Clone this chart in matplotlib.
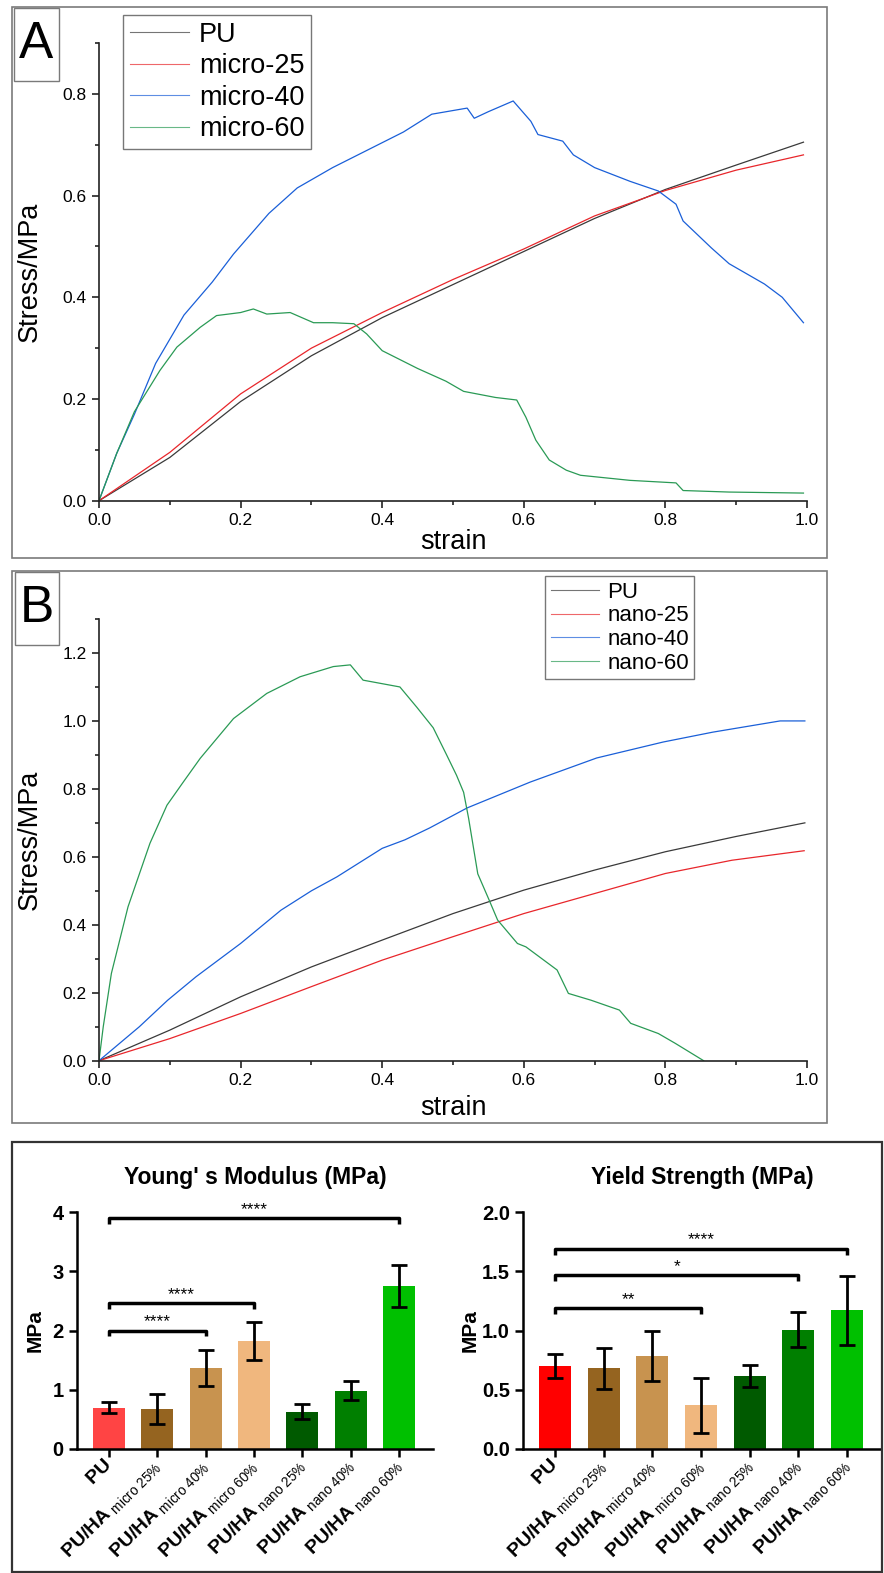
import matplotlib
matplotlib.use("Agg")
import matplotlib.pyplot as plt
from matplotlib.patches import Rectangle
from matplotlib.ticker import MultipleLocator, FormatStrFormatter

plt.rcParams['font.family'] = ['Liberation Sans', 'DejaVu Sans']
plt.rcParams['mathtext.fontset'] = 'custom'
plt.rcParams['mathtext.rm'] = 'Liberation Sans'
plt.rcParams['mathtext.bf'] = 'Liberation Sans:bold'
plt.rcParams['mathtext.it'] = 'Liberation Sans:italic'

# ---- panel A: PU / micro-HA stress-strain ----
a_pu_strain = [0, 0.1, 0.2, 0.3, 0.4, 0.5, 0.6, 0.7, 0.8, 0.9, 0.995]
a_pu_stress = [0, 0.085, 0.195, 0.285, 0.36, 0.425, 0.49, 0.555, 0.612, 0.66, 0.705]
a_m25_strain = [0, 0.1, 0.2, 0.3, 0.4, 0.5, 0.6, 0.7, 0.8, 0.9, 0.995]
a_m25_stress = [0, 0.095, 0.21, 0.30, 0.37, 0.435, 0.495, 0.56, 0.61, 0.65, 0.68]
a_m40_strain = [0, 0.025, 0.05, 0.08, 0.12, 0.16, 0.19, 0.24, 0.28, 0.33, 0.38, 0.43,
                0.47, 0.52, 0.53, 0.55, 0.585, 0.61, 0.62, 0.655, 0.67, 0.70, 0.75,
                0.79, 0.815, 0.825, 0.865, 0.89, 0.94, 0.965, 0.995]
a_m40_stress = [0, 0.093, 0.17, 0.27, 0.365, 0.43, 0.485, 0.565, 0.615, 0.655, 0.69, 0.725,
                0.76, 0.772, 0.752, 0.765, 0.786, 0.746, 0.72, 0.707, 0.68, 0.655, 0.628,
                0.609, 0.583, 0.55, 0.497, 0.466, 0.426, 0.40, 0.35]
a_m60_strain = [0, 0.025, 0.05, 0.086, 0.11, 0.143, 0.166, 0.2, 0.218, 0.237, 0.27, 0.303,
                0.33, 0.36, 0.378, 0.40, 0.45, 0.49, 0.515, 0.56, 0.59, 0.603, 0.617,
                0.636, 0.66, 0.68, 0.75, 0.815, 0.825, 0.89, 0.995]
a_m60_stress = [0, 0.093, 0.175, 0.256, 0.302, 0.341, 0.364, 0.37, 0.377, 0.367, 0.37, 0.35,
                0.35, 0.348, 0.328, 0.295, 0.26, 0.235, 0.215, 0.203, 0.198, 0.164, 0.119,
                0.08, 0.06, 0.05, 0.04, 0.035, 0.02, 0.017, 0.015]

# ---- panel B: PU / nano-HA stress-strain ----
b_pu_strain = [0, 0.1, 0.2, 0.3, 0.4, 0.5, 0.6, 0.7, 0.8, 0.9, 0.997]
b_pu_stress = [0, 0.09, 0.188, 0.276, 0.355, 0.433, 0.502, 0.561, 0.615, 0.66, 0.70]
b_n25_strain = [0, 0.1, 0.2, 0.3, 0.4, 0.5, 0.6, 0.7, 0.8, 0.894, 0.996]
b_n25_stress = [0, 0.065, 0.139, 0.218, 0.296, 0.365, 0.433, 0.492, 0.551, 0.59, 0.618]
b_n40_strain = [0, 0.057, 0.097, 0.137, 0.2, 0.257, 0.3, 0.336, 0.4, 0.432, 0.467, 0.52,
                0.609, 0.703, 0.797, 0.867, 0.962, 0.997]
b_n40_stress = [0, 0.1, 0.178, 0.247, 0.345, 0.443, 0.50, 0.541, 0.625, 0.65, 0.685, 0.744,
                0.82, 0.891, 0.938, 0.967, 1.0, 1.0]
b_n60_strain = [0, 0.006, 0.0175, 0.041, 0.072, 0.096, 0.119, 0.143, 0.19, 0.237, 0.284,
                0.331, 0.355, 0.373, 0.425, 0.449, 0.472, 0.491, 0.505, 0.515, 0.522,
                0.535, 0.551, 0.563, 0.591, 0.603, 0.647, 0.663, 0.695, 0.735, 0.751,
                0.79, 0.814, 0.854]
b_n60_stress = [0, 0.1, 0.257, 0.453, 0.64, 0.752, 0.82, 0.89, 1.007, 1.081, 1.13,
                1.16, 1.165, 1.12, 1.10, 1.04, 0.98, 0.9, 0.84, 0.79, 0.714,
                0.55, 0.473, 0.414, 0.345, 0.335, 0.267, 0.198, 0.178, 0.149, 0.11,
                0.08, 0.051, 0.0]

# ---- panel C: bar charts ----
bar_groups = ['PU', 'micro 25%', 'micro 40%', 'micro 60%', 'nano 25%', 'nano 40%', 'nano 60%']
modulus_mean = [0.70, 0.67, 1.37, 1.83, 0.63, 0.98, 2.75]
modulus_err = [0.10, 0.25, 0.30, 0.32, 0.13, 0.16, 0.35]
yield_mean = [0.70, 0.68, 0.785, 0.368, 0.615, 1.008, 1.17]
yield_err = [0.105, 0.17, 0.21, 0.23, 0.09, 0.15, 0.29]

# significance brackets: (from, to, height, label)
modulus_sig = [(0, 2, 2.0, '****'), (0, 3, 2.46, '****'), (0, 6, 3.9, '****')]
yield_sig = [(0, 3, 1.19, '**'), (0, 5, 1.466, '*'), (0, 6, 1.69, '****')]

curve_colors = ['#3a3a3a', '#e8262b', '#1a5fd8', '#2a9a55']
modulus_colors = ['#ff4444', '#956420', '#c8934f', '#f0b77e', '#005a00', '#007f00', '#00c000']
yield_colors = ['#ff0000', '#956420', '#c8934f', '#f0b77e', '#005a00', '#007f00', '#00c000']

W, H = 884, 1573
fig = plt.figure(figsize=(W / 100, H / 100), dpi=100)


def px_rect(x0, y0, x1, y1):
    # pixel box (top-left origin) -> figure fraction rect
    return [x0 / W, 1 - y1 / H, (x1 - x0) / W, (y1 - y0) / H]


def frame(x0, y0, x1, y1, lw=1.2, color='#7a7a7a'):
    l, b, w, h = px_rect(x0, y0, x1, y1)
    fig.add_artist(Rectangle((l, b), w, h, transform=fig.transFigure,
                             fill=False, ec=color, lw=lw))


def style_curve_axes(ax, ymax):
    ax.set_xlim(0, 1.0)
    ax.set_ylim(0, ymax)
    for s in ['top', 'right']:
        ax.spines[s].set_visible(False)
    for s in ['left', 'bottom']:
        ax.spines[s].set_linewidth(1.2)
        ax.spines[s].set_color('#222222')
    ax.xaxis.set_major_locator(MultipleLocator(0.2))
    ax.xaxis.set_minor_locator(MultipleLocator(0.1))
    ax.yaxis.set_major_locator(MultipleLocator(0.2))
    ax.yaxis.set_minor_locator(MultipleLocator(0.1))
    ax.xaxis.set_major_formatter(FormatStrFormatter('%.1f'))
    ax.yaxis.set_major_formatter(FormatStrFormatter('%.1f'))
    ax.tick_params(which='major', direction='out', length=5, width=1.2,
                   labelsize=12.5, color='#222222', pad=4)
    ax.tick_params(which='minor', direction='out', length=3, width=1.2, color='#222222')
    ax.set_xlabel('strain', fontsize=19.5)
    ax.set_ylabel('Stress/MPa', fontsize=19.5)


def curve_panel(rect, ymax, series, labels, legend_anchor, legend_size, spacing):
    ax = fig.add_axes(rect)
    for (x, y), lab, c in zip(series, labels, curve_colors):
        ax.plot(x, y, color=c, lw=0.9, label=lab)
    style_curve_axes(ax, ymax)
    leg = ax.legend(loc='upper left', bbox_to_anchor=legend_anchor, fontsize=legend_size,
                    frameon=True, fancybox=False, framealpha=1, edgecolor='#777777',
                    handlelength=2.2, handletextpad=0.35, labelspacing=spacing,
                    borderpad=0.25, borderaxespad=0)
    leg.get_frame().set_linewidth(1.0)
    for line in leg.get_lines():
        line.set_linewidth(0.8)
        line.set_alpha(0.7)
    return ax


# panel A
frame(12, 7, 827, 558)
frame(14, 8, 59, 81, lw=1.0)
fig.text(36.5 / W, 1 - 45 / H, 'A', fontsize=37, ha='center', va='center')
ax_a = curve_panel(px_rect(99, 43, 807, 500.7), 0.9,
                   [(a_pu_strain, a_pu_stress), (a_m25_strain, a_m25_stress),
                    (a_m40_strain, a_m40_stress), (a_m60_strain, a_m60_stress)],
                   ['PU', 'micro-25', 'micro-40', 'micro-60'], (0.034, 1.061), 19.5, 0.2)
ax_a.xaxis.set_label_coords(0.5, -0.062)
ax_a.yaxis.set_label_coords(-0.08, 0.5)

# panel B
frame(12, 571, 827, 1123)
frame(15, 572, 59, 645, lw=1.0)
fig.text(37 / W, 1 - 609 / H, 'B', fontsize=37, ha='center', va='center')
ax_b = curve_panel(px_rect(99, 619, 807, 1060.7), 1.3,
                   [(b_pu_strain, b_pu_stress), (b_n25_strain, b_n25_stress),
                    (b_n40_strain, b_n40_stress), (b_n60_strain, b_n60_stress)],
                   ['PU', 'nano-25', 'nano-40', 'nano-60'], (0.63, 1.097), 16, 0.12)
ax_b.xaxis.set_label_coords(0.5, -0.078)
ax_b.yaxis.set_label_coords(-0.08, 0.5)

# panel C
frame(12, 1142, 882, 1572, lw=1.6, color='#333333')


def tick_label(g):
    if g == 'PU':
        return r'$\mathbf{PU}$'
    return r'$\mathbf{PU/HA}_{\mathrm{\ ' + g.replace(' ', r'\ ').replace('%', r'\%') + '}}$'


def bar_panel(rect, means, errs, colors, ymax, ystep, yfmt, title, sig, ylabel_x):
    ax = fig.add_axes(rect)
    xs = list(range(len(means)))
    ax.bar(xs, means, width=0.66, color=colors, zorder=2)
    ax.errorbar(xs, means, yerr=errs, fmt='none', ecolor='black', elinewidth=2,
                capsize=5.5, capthick=2, zorder=3)
    ax.set_xlim(-0.66, 6.7)
    ax.set_ylim(0, ymax)
    for s in ['top', 'right']:
        ax.spines[s].set_visible(False)
    for s in ['left', 'bottom']:
        ax.spines[s].set_linewidth(1.8)
    ax.yaxis.set_major_locator(MultipleLocator(ystep))
    ax.yaxis.set_major_formatter(FormatStrFormatter(yfmt))
    ax.set_xticks(xs)
    ax.set_xticklabels([tick_label(g) for g in bar_groups], rotation=45, ha='right',
                       va='center', rotation_mode='anchor', fontsize=14)
    ax.tick_params(direction='out', length=6, width=1.8)
    ax.tick_params(axis='y', labelsize=14.5)
    for t in ax.get_yticklabels():
        t.set_fontweight('bold')
    ax.set_title(title, fontsize=16.5, fontweight='bold', pad=20)
    ax.set_ylabel('MPa', fontsize=15, fontweight='bold')
    ax.yaxis.set_label_coords(ylabel_x, 0.5)
    tip = ymax * 0.025
    for i0, i1, h, lab in sig:
        ax.plot([i0, i0, i1, i1], [h - tip, h, h, h - tip], color='black', lw=2.5,
                solid_capstyle='butt', zorder=4)
        ax.text((i0 + i1) / 2, h + ymax * 0.005, lab, ha='center', va='bottom',
                fontsize=12.5)
    return ax


bar_panel(px_rect(77, 1212, 433, 1449), modulus_mean, modulus_err, modulus_colors,
          4, 1, '%d', "Young' s Modulus (MPa)", modulus_sig, -0.09)
bar_panel(px_rect(523, 1212, 881, 1449), yield_mean, yield_err, yield_colors,
          2.0, 0.5, '%.1f', 'Yield Strength (MPa)', yield_sig, -0.12)

fig.savefig('out.png', dpi=100)
